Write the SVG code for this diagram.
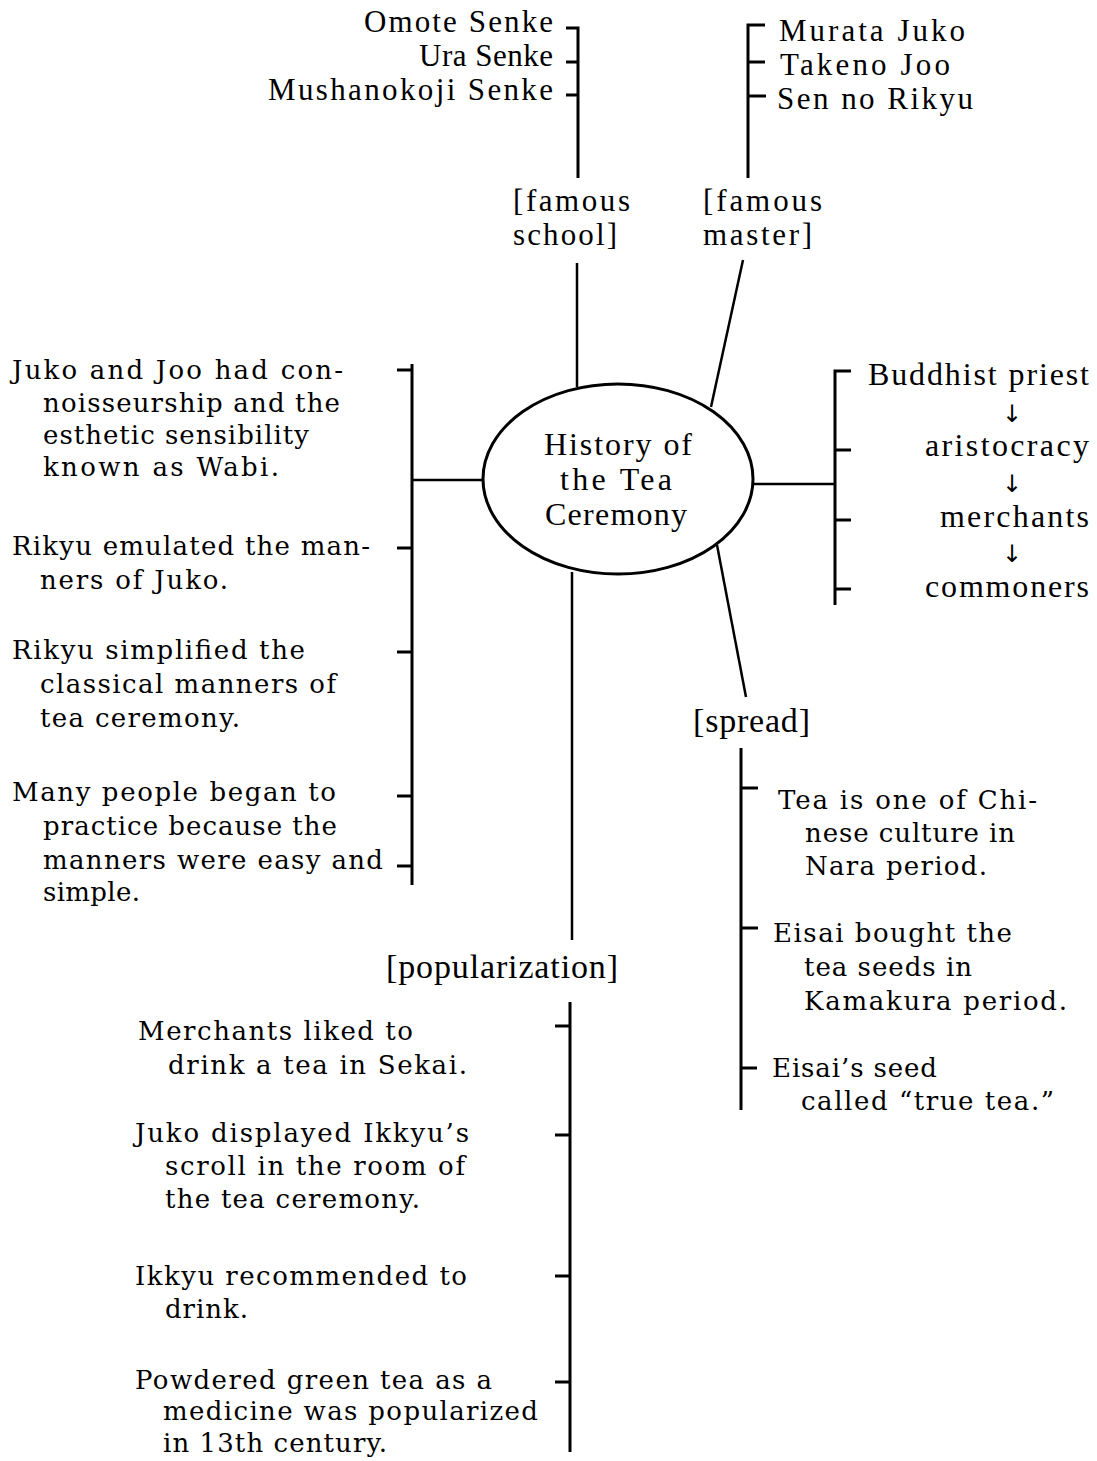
<svg xmlns="http://www.w3.org/2000/svg" width="1097" height="1461" viewBox="0 0 1097 1461">
<style>
.lbl{font-family:"Liberation Serif","Times New Roman",serif;font-size:31px;fill:#000}
.big{font-family:"Liberation Serif","Times New Roman",serif;font-size:34px;fill:#000}
.soc{font-family:"Liberation Serif","Times New Roman",serif;font-size:32px;fill:#000}
.ctr{font-family:"Liberation Serif","Times New Roman",serif;font-size:32px;fill:#000}
.desc{font-family:"DejaVu Serif","Liberation Serif",serif;font-size:26px;fill:#000}
.arr{font-family:"DejaVu Sans","Liberation Sans",sans-serif;font-size:24px;fill:#000}
.br{stroke:#000;stroke-width:3;fill:none}
.cn{stroke:#000;stroke-width:2.5;fill:none}
</style>
<rect width="1097" height="1461" fill="#fff"/>

<g id="connectors">
  <path class="br" d="M566 28H578V178M566 62H578M566 95H578"/>
  <path class="br" d="M765 25H748V178M748 62H765M748 96H766"/>
  <path class="br" d="M412 364V885M397 370H412M397 548H412M397 652H412M397 796H412M397 866H412"/>
  <path class="br" d="M851 371H835V605M835 450H851M835 520H851M835 589H851"/>
  <path class="br" d="M741 748V1110M741 788H758M741 928H758M741 1068H757"/>
  <path class="br" d="M570 1002V1452M555 1026H570M555 1135H570M555 1276H570M555 1382H570"/>
  <path class="cn" d="M577 263V387"/>
  <path class="cn" d="M743 260L711 407"/>
  <path class="cn" d="M483 480H412"/>
  <path class="cn" d="M754 484H835"/>
  <path class="cn" d="M717 545L746 697"/>
  <path class="cn" d="M572 572V940"/>
</g>

<g id="node-center">
  <ellipse cx="618" cy="479" rx="135" ry="95" fill="#fff" stroke="#000" stroke-width="3"/>
  <text class="ctr" x="544" y="455" textLength="148" lengthAdjust="spacing">History of</text>
  <text class="ctr" x="560" y="490" textLength="112" lengthAdjust="spacing">the Tea</text>
  <text class="ctr" x="545" y="525" textLength="142" lengthAdjust="spacing">Ceremony</text>
</g>

<g id="node-school-list">
  <text class="lbl" x="364" y="32" textLength="189" lengthAdjust="spacing">Omote Senke</text>
  <text class="lbl" x="419" y="66" textLength="134" lengthAdjust="spacing">Ura Senke</text>
  <text class="lbl" x="268" y="100" textLength="285" lengthAdjust="spacing">Mushanokoji Senke</text>
</g>

<g id="node-famous-school">
  <text class="lbl" x="513" y="211" textLength="117" lengthAdjust="spacing">[famous</text>
  <text class="lbl" x="513" y="245" textLength="104" lengthAdjust="spacing">school]</text>
</g>

<g id="node-master-list">
  <text class="lbl" x="779" y="41" textLength="186" lengthAdjust="spacing">Murata Juko</text>
  <text class="lbl" x="780" y="75" textLength="170" lengthAdjust="spacing">Takeno Joo</text>
  <text class="lbl" x="777" y="109" textLength="196" lengthAdjust="spacing">Sen no Rikyu</text>
</g>

<g id="node-famous-master">
  <text class="lbl" x="703" y="211" textLength="119" lengthAdjust="spacing">[famous</text>
  <text class="lbl" x="703" y="245" textLength="109" lengthAdjust="spacing">master]</text>
</g>

<g id="node-left-items">
  <text class="desc" x="12" y="379" textLength="331" lengthAdjust="spacing">Juko and Joo had con-</text>
  <text class="desc" x="43" y="412" textLength="297" lengthAdjust="spacing">noisseurship and the</text>
  <text class="desc" x="43" y="444" textLength="266" lengthAdjust="spacing">esthetic sensibility</text>
  <text class="desc" x="43" y="476" textLength="236" lengthAdjust="spacing">known as Wabi.</text>
  <text class="desc" x="12" y="555" textLength="358" lengthAdjust="spacing">Rikyu emulated the man-</text>
  <text class="desc" x="40" y="589" textLength="188" lengthAdjust="spacing">ners of Juko.</text>
  <text class="desc" x="12" y="659" textLength="293" lengthAdjust="spacing">Rikyu simplified the</text>
  <text class="desc" x="40" y="693" textLength="296" lengthAdjust="spacing">classical manners of</text>
  <text class="desc" x="40" y="727" textLength="200" lengthAdjust="spacing">tea ceremony.</text>
  <text class="desc" x="12" y="801" textLength="324" lengthAdjust="spacing">Many people began to</text>
  <text class="desc" x="43" y="835" textLength="294" lengthAdjust="spacing">practice because the</text>
  <text class="desc" x="43" y="869" textLength="340" lengthAdjust="spacing">manners were easy and</text>
  <text class="desc" x="43" y="901" textLength="97" lengthAdjust="spacing">simple.</text>
</g>

<g id="node-social">
  <text class="soc" x="868" y="385" textLength="221" lengthAdjust="spacing">Buddhist priest</text>
  <text class="arr" x="1012" y="422" text-anchor="middle">↓</text>
  <text class="soc" x="925" y="456" textLength="164" lengthAdjust="spacing">aristocracy</text>
  <text class="arr" x="1012" y="492" text-anchor="middle">↓</text>
  <text class="soc" x="940" y="527" textLength="149" lengthAdjust="spacing">merchants</text>
  <text class="arr" x="1012" y="562" text-anchor="middle">↓</text>
  <text class="soc" x="925" y="597" textLength="164" lengthAdjust="spacing">commoners</text>
</g>

<g id="node-spread">
  <text class="big" x="693" y="732" textLength="117" lengthAdjust="spacing">[spread]</text>
</g>

<g id="node-spread-items">
  <text class="desc" x="778" y="809" textLength="259" lengthAdjust="spacing">Tea is one of Chi-</text>
  <text class="desc" x="805" y="842" textLength="210" lengthAdjust="spacing">nese culture in</text>
  <text class="desc" x="805" y="875" textLength="182" lengthAdjust="spacing">Nara period.</text>
  <text class="desc" x="773" y="942" textLength="239" lengthAdjust="spacing">Eisai bought the</text>
  <text class="desc" x="804" y="976" textLength="168" lengthAdjust="spacing">tea seeds in</text>
  <text class="desc" x="804" y="1010" textLength="263" lengthAdjust="spacing">Kamakura period.</text>
  <text class="desc" x="772" y="1077" textLength="165" lengthAdjust="spacing">Eisai’s seed</text>
  <text class="desc" x="801" y="1110" textLength="253" lengthAdjust="spacing">called “true tea.”</text>
</g>

<g id="node-popularization">
  <text class="big" x="386" y="978" textLength="232" lengthAdjust="spacing">[popularization]</text>
</g>

<g id="node-pop-items">
  <text class="desc" x="138" y="1040" textLength="275" lengthAdjust="spacing">Merchants liked to</text>
  <text class="desc" x="168" y="1074" textLength="299" lengthAdjust="spacing">drink a tea in Sekai.</text>
  <text class="desc" x="135" y="1142" textLength="334" lengthAdjust="spacing">Juko displayed Ikkyu’s</text>
  <text class="desc" x="165" y="1175" textLength="300" lengthAdjust="spacing">scroll in the room of</text>
  <text class="desc" x="165" y="1208" textLength="255" lengthAdjust="spacing">the tea ceremony.</text>
  <text class="desc" x="135" y="1285" textLength="332" lengthAdjust="spacing">Ikkyu recommended to</text>
  <text class="desc" x="165" y="1318" textLength="83" lengthAdjust="spacing">drink.</text>
  <text class="desc" x="135" y="1389" textLength="357" lengthAdjust="spacing">Powdered green tea as a</text>
  <text class="desc" x="163" y="1420" textLength="375" lengthAdjust="spacing">medicine was popularized</text>
  <text class="desc" x="163" y="1452" textLength="224" lengthAdjust="spacing">in 13th century.</text>
</g>
</svg>
